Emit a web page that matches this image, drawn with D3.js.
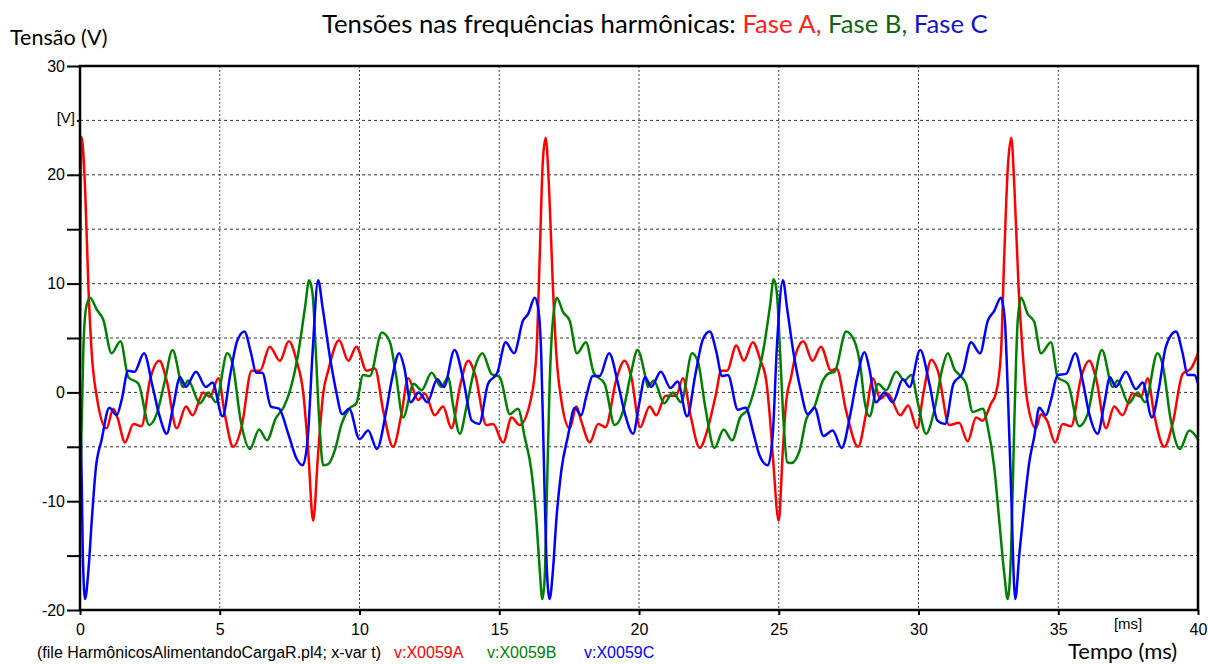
<!DOCTYPE html>
<html>
<head>
<meta charset="utf-8">
<script src="https://cdn.jsdelivr.net/npm/d3@7"></script>
<style>
body { margin: 0; background: #fff; }
svg text { font-family: "Liberation Sans", Arial, sans-serif; }
</style>
</head>
<body>
<svg id="chart" width="1208" height="664"></svg>
<script>
// tensões: [tempo (ms), tensão (V)]
var faseA = [[0,2.0],[0.05,23.5],[0.18,18.9],[0.30,9.7],[0.42,3.6],[0.60,-0.4],[0.95,-3.3],[1.19,-1.5],[1.35,-2.4],[1.61,-4.6],[1.91,-2.9],[2.2,-3.1],[2.5,1.1],[2.84,2.9],[3.1,1.1],[3.46,-3.3],[3.79,-1.3],[4.03,-2.1],[4.41,0],[4.65,-0.4],[4.95,1.3],[5.18,-2.0],[5.48,-5.0],[5.78,-3.2],[6.14,2.0],[6.44,2.0],[6.79,4.2],[7.15,2.9],[7.47,4.7],[7.75,2.9],[7.99,-0.1],[8.17,-5.6],[8.34,-11.8],[8.52,-5.6],[8.70,-0.1],[8.88,2.0],[9.27,4.8],[9.6,2.9],[9.89,4.2],[10.25,2.0],[10.55,2.2],[10.85,-1.7],[11.2,-5.0],[11.5,-2.0],[11.74,1.3],[12.1,-0.7],[12.34,-0.1],[12.69,-2.1],[12.99,-1.3],[13.29,-3.3],[13.59,0.5],[13.89,2.9],[14.13,1.7],[14.54,-3.0],[14.78,-2.9],[15.14,-4.6],[15.44,-2.3],[15.73,-3.0],[16.15,-0.4],[16.33,3.6],[16.45,12.7],[16.56,21.3],[16.66,23.4],[16.78,18.9],[16.92,9.7],[17.04,3.6],[17.22,-0.7],[17.52,-3.3],[17.76,-1.3],[17.93,-2.6],[18.24,-4.6],[18.54,-2.9],[18.8,-3.2],[19.19,1.2],[19.48,2.9],[19.72,1.5],[20.04,-3.2],[20.38,-1.3],[20.62,-2.1],[20.95,-0.3],[21.33,-0.3],[21.57,1.3],[21.85,-2.2],[22.17,-5.1],[22.43,-3.6],[22.75,-0.2],[22.94,2.0],[23.15,2.0],[23.48,4.3],[23.75,2.9],[24.07,4.6],[24.35,2.9],[24.55,1.1],[24.67,-1.9],[24.79,-5.9],[25.0,-11.8],[25.14,-5.6],[25.26,-1.0],[25.44,1.4],[25.62,3.6],[25.88,4.7],[26.21,2.9],[26.51,4.2],[26.87,2.0],[27.07,2.2],[27.41,-1.7],[27.84,-5.0],[28.12,-2.0],[28.37,1.3],[28.63,-0.6],[28.9,-0.1],[29.35,-2.1],[29.63,-1.2],[29.95,-3.3],[30.18,0.0],[30.46,3.0],[30.69,2.0],[31.1,-3.0],[31.45,-2.8],[31.76,-4.5],[32.06,-2.3],[32.29,-2.6],[32.6,-1.0],[32.77,-0.1],[32.95,3.6],[33.07,12.7],[33.19,20.4],[33.32,23.4],[33.43,18.9],[33.58,9.7],[33.73,3.6],[33.87,-0.4],[34.2,-3.3],[34.38,-2.0],[34.6,-2.6],[34.89,-4.6],[35.16,-2.9],[35.46,-3.1],[35.81,1.3],[36.11,2.9],[36.35,1.3],[36.71,-3.3],[37.0,-1.3],[37.3,-2.1],[37.66,-0.1],[37.96,-0.4],[38.2,1.3],[38.43,-2.0],[38.79,-5.0],[39.09,-2.9],[39.45,1.7],[39.75,2.2],[40,3.6]];

var faseB = [[0,-12],[0.05,-4],[0.12,4],[0.22,7.8],[0.36,8.7],[0.6,7.6],[0.83,6.7],[1.13,3.6],[1.45,4.7],[1.73,1.4],[2.09,0.8],[2.48,-3.0],[2.74,-2.0],[3.04,1.1],[3.31,3.9],[3.69,0.5],[3.87,1.1],[4.29,-1.0],[4.59,0],[4.86,-0.9],[5.27,3.6],[5.46,2.6],[5.75,-2.6],[6.08,-5.2],[6.41,-3.4],[6.69,-4.4],[7.0,-2.4],[7.3,-1.3],[7.55,0.5],[7.81,3.6],[8.05,7.8],[8.2,10.3],[8.32,9.1],[8.44,3.6],[8.56,-2.6],[8.7,-6.7],[8.88,-6.6],[9.12,-5.3],[9.36,-2.9],[9.63,-1.5],[9.89,-1.0],[10.13,1.6],[10.37,1.5],[10.8,5.5],[11.09,4.6],[11.3,1.7],[11.56,-2.3],[11.94,0.8],[12.22,0.2],[12.58,1.8],[12.93,0.5],[13.17,1.4],[13.35,-1.2],[13.59,-3.8],[13.83,-1.3],[14.13,2.3],[14.4,3.6],[14.72,1.7],[15.02,1.4],[15.38,-2.0],[15.67,-1.5],[15.91,-4.1],[16.15,-7.2],[16.33,-11.8],[16.45,-16.4],[16.54,-19.0],[16.62,-17.3],[16.71,-8.7],[16.8,0.5],[16.9,6.0],[17.06,8.7],[17.28,7.4],[17.52,6.6],[17.78,3.6],[18.1,4.6],[18.38,1.8],[18.77,0.8],[19.13,-3.0],[19.42,-1.8],[19.7,1.6],[19.95,3.9],[20.25,1.2],[20.32,0.5],[20.53,1.1],[20.9,-1.0],[21.21,0],[21.51,-0.9],[21.9,3.6],[22.11,2.8],[22.38,-1.5],[22.7,-5.1],[23.03,-3.4],[23.33,-4.4],[23.62,-2.3],[23.9,-1.5],[24.2,1.0],[24.49,4.5],[24.69,8.0],[24.82,10.4],[24.93,9.2],[25.05,3.6],[25.17,-2.6],[25.3,-6.4],[25.45,-6.5],[25.75,-5.3],[25.98,-2.5],[26.28,-1.3],[26.58,1.1],[26.76,1.7],[27.0,1.9],[27.41,5.6],[27.71,4.7],[27.92,2.4],[28.07,-0.8],[28.25,-2.2],[28.55,0.8],[28.84,0.2],[29.2,1.9],[29.5,1.1],[29.74,1.6],[29.98,-1.0],[30.27,-3.8],[30.57,-1.6],[30.87,2.4],[31.05,3.6],[31.29,2.1],[31.47,1.6],[31.7,0.8],[31.94,-1.8],[32.3,-1.5],[32.48,-3.2],[32.71,-6.9],[32.89,-11.8],[33.07,-16.7],[33.19,-19.0],[33.31,-14.8],[33.43,-2.6],[33.55,6.6],[33.67,8.7],[33.91,7.2],[34.14,6.5],[34.38,3.6],[34.74,4.6],[34.98,1.4],[35.34,0.8],[35.75,-3.1],[36.05,-2.0],[36.29,1.1],[36.56,3.9],[36.95,0.5],[37.12,1.1],[37.52,-1.0],[37.84,0],[38.11,-0.9],[38.55,3.6],[38.73,2.6],[39.03,-2.6],[39.35,-5.2],[39.69,-3.5],[40,-4.3]];

var faseC = [[0,-0.7],[0.06,-8],[0.1,-14.8],[0.18,-19.0],[0.3,-16.4],[0.42,-11.8],[0.57,-6.9],[0.77,-4.4],[1.05,-1.4],[1.31,-2.1],[1.49,-0.7],[1.72,2.0],[1.95,1.9],[2.29,3.6],[2.6,0.5],[2.86,-2.3],[3.1,-3.8],[3.34,-1.2],[3.58,1.4],[3.79,0.5],[4.15,1.9],[4.5,0.5],[4.74,0.9],[5.1,-2.2],[5.38,1.7],[5.62,4.7],[5.88,5.6],[6.12,3.6],[6.3,1.8],[6.52,1.8],[6.83,-1.3],[7.12,-1.5],[7.45,-3.8],[7.75,-6.1],[7.97,-6.7],[8.15,-4.1],[8.32,3.6],[8.52,10.3],[8.68,7.8],[8.92,3.6],[9.15,0.3],[9.38,-2.0],[9.63,-1.5],[10.0,-4.3],[10.31,-3.5],[10.62,-5.2],[10.95,-1.8],[11.15,1.1],[11.42,3.6],[11.6,2.3],[11.83,-0.9],[12.12,0],[12.43,-0.9],[12.78,1.2],[13.02,0.5],[13.4,3.9],[13.72,1.1],[14.02,-2.6],[14.28,-2.9],[14.6,0.8],[14.93,1.8],[15.23,4.6],[15.53,3.6],[15.85,6.6],[16.03,7.2],[16.27,8.7],[16.39,7.8],[16.5,3.6],[16.59,-5.6],[16.68,-14.8],[16.8,-19.0],[16.92,-16.4],[17.04,-11.8],[17.22,-7.2],[17.46,-4.0],[17.7,-1.4],[17.93,-2.1],[18.11,-0.4],[18.35,1.5],[18.59,1.5],[18.93,3.6],[19.25,0.8],[19.5,-2.0],[19.79,-3.8],[20.01,-1.0],[20.22,1.4],[20.44,0.5],[20.78,1.9],[21.13,0.4],[21.38,1.0],[21.72,-2.2],[22.02,1.7],[22.29,4.9],[22.53,5.6],[22.77,3.7],[22.97,1.5],[23.18,1.6],[23.54,-1.6],[23.81,-1.4],[24.1,-3.8],[24.3,-5.7],[24.61,-6.7],[24.78,-4.1],[24.94,4.5],[25.15,10.3],[25.3,7.7],[25.53,3.6],[25.77,0.4],[26.04,-2.0],[26.28,-1.4],[26.6,-4.0],[26.93,-3.5],[27.25,-5.1],[27.57,-1.9],[27.8,1.3],[28.07,3.7],[28.24,2.2],[28.48,-0.9],[28.78,0],[29.08,-0.9],[29.44,1.2],[29.68,0.5],[30.06,3.9],[30.39,0.8],[30.68,-2.6],[30.95,-2.9],[31.25,0.8],[31.58,1.8],[31.88,4.6],[32.2,3.6],[32.48,6.6],[32.71,7.5],[32.95,8.7],[33.09,6.6],[33.19,0.5],[33.31,-8.7],[33.46,-19.0],[33.61,-14.8],[33.79,-10.2],[33.97,-6.3],[34.14,-4.1],[34.32,-1.4],[34.56,-2.1],[34.74,-0.7],[34.98,1.6],[35.28,1.7],[35.61,3.6],[35.87,1.1],[36.11,-2.0],[36.41,-3.8],[36.65,-1.0],[36.85,1.4],[37.06,0.5],[37.42,1.9],[37.78,0.3],[38.02,0.9],[38.35,-2.3],[38.61,0.5],[38.85,4.2],[39.21,5.6],[39.45,3.6],[39.63,1.6],[39.87,1.6],[40,0.8]];

var xTicks = [0, 5, 10, 15, 20, 25, 30, 35, 40];
var yTicks = [-20, -15, -10, -5, 0, 5, 10, 15, 20, 25, 30];
var yLabels = [-20, -10, 0, 10, 20, 30];
var yUnitTick = 25; // no lugar do 25 aparece "[V]"

var series = [
	{name: "v:X0059A", data: faseA, color: "#ff0000"},
	{name: "v:X0059B", data: faseB, color: "#008000"},
	{name: "v:X0059C", data: faseC, color: "#0000ff"}
];

var svg = d3.select("#chart");
var pLeft = 80, pRight = 1198, pTop = 66, pBottom = 610;

var x = d3.scaleLinear().domain([0, 40]).range([pLeft, pRight]);
var y = d3.scaleLinear().domain([-20, 30]).range([pBottom, pTop]);

// grade pontilhada
svg.append("g").selectAll("line")
	.data(yTicks.filter(function (d) { return d > -20 && d < 30; }))
	.enter().append("line")
	.attr("x1", pLeft).attr("x2", pRight)
	.attr("y1", function (d) { return y(d); })
	.attr("y2", function (d) { return y(d); })
	.attr("stroke", "#333").attr("stroke-width", 1)
	.attr("stroke-dasharray", "3,3");

svg.append("g").selectAll("line")
	.data(xTicks.filter(function (d) { return d > 0 && d < 40; }))
	.enter().append("line")
	.attr("y1", pTop).attr("y2", pBottom)
	.attr("x1", function (d) { return x(d); })
	.attr("x2", function (d) { return x(d); })
	.attr("stroke", "#444").attr("stroke-width", 1)
	.attr("stroke-dasharray", "2,2");

svg.append("clipPath").attr("id", "area")
	.append("rect")
	.attr("x", pLeft).attr("y", pTop)
	.attr("width", pRight - pLeft).attr("height", pBottom - pTop);

var line = d3.line()
	.x(function (d) { return x(d[0]); })
	.y(function (d) { return y(d[1]); })
	.curve(d3.curveMonotoneX);

svg.append("g").attr("clip-path", "url(#area)")
	.selectAll("path")
	.data(series)
	.enter().append("path")
	.attr("d", function (d) { return line(d.data); })
	.attr("fill", "none")
	.attr("stroke", function (d) { return d.color; })
	.attr("stroke-width", 2.5)
	.attr("stroke-linejoin", "round");

// eixos
var yAxis = d3.axisLeft(y).tickValues(yTicks).tickSize(13)
	.tickFormat(function (d) { return yLabels.indexOf(d) >= 0 ? d : ""; });
var gy = svg.append("g").attr("transform", "translate(" + pLeft + ",0)").call(yAxis);
gy.select(".domain").remove();
gy.selectAll("line").attr("stroke", "#000").attr("stroke-width", 2);
gy.selectAll(".tick").filter(function (d) { return d == yUnitTick; })
	.select("line").attr("x2", -3);
gy.selectAll("text").attr("font-size", 16).attr("fill", "#000").attr("x", -15);

var xAxis = d3.axisBottom(x).tickValues(xTicks).tickSize(5).tickPadding(9);
var gx = svg.append("g").attr("transform", "translate(0," + pBottom + ")").call(xAxis);
gx.select(".domain").remove();
gx.selectAll("line").attr("stroke", "#000").attr("stroke-width", 2);
gx.selectAll("text").attr("font-size", 16).attr("fill", "#000");

svg.append("text").attr("x", 75).attr("y", y(yUnitTick) + 3)
	.attr("text-anchor", "end").attr("font-size", 15).text("[V]");
svg.append("text").attr("x", x(37.5)).attr("y", 629)
	.attr("text-anchor", "middle").attr("font-size", 15).text("[ms]");

// moldura
svg.append("rect")
	.attr("x", pLeft).attr("y", pTop)
	.attr("width", pRight - pLeft).attr("height", pBottom - pTop)
	.attr("fill", "none").attr("stroke", "#000").attr("stroke-width", 2.5);

// títulos
var title = svg.append("text").attr("x", 322).attr("y", 33)
	.style("font-family", "Lato, 'Open Sans', sans-serif").attr("font-size", 25.7);
title.append("tspan").attr("fill", "#000").text("Tensões nas frequências harmônicas: ");
title.append("tspan").attr("fill", "#ff2020").text("Fase A, ");
title.append("tspan").attr("fill", "#106410").text("Fase B, ");
title.append("tspan").attr("fill", "#1414c8").text("Fase C");

svg.append("text").attr("x", 10).attr("y", 45)
	.style("font-family", "Lato, 'Open Sans', sans-serif").attr("font-size", 21.5)
	.text("Tensão (V)");
svg.append("text").attr("x", 1068).attr("y", 659)
	.style("font-family", "Lato, 'Open Sans', sans-serif").attr("font-size", 22)
	.text("Tempo (ms)");

// rodapé com nomes das variáveis
svg.append("text").attr("x", 37).attr("y", 658).attr("font-size", 16)
	.text("(file HarmônicosAlimentandoCargaR.pl4; x-var t)");
var legX = [394, 487, 584];
svg.selectAll(".leg").data(series).enter().append("text")
	.attr("class", "leg")
	.attr("x", function (d, i) { return legX[i]; })
	.attr("y", 658).attr("font-size", 16)
	.attr("fill", function (d) { return d.color; })
	.text(function (d) { return d.name; });
</script>
</body>
</html>
